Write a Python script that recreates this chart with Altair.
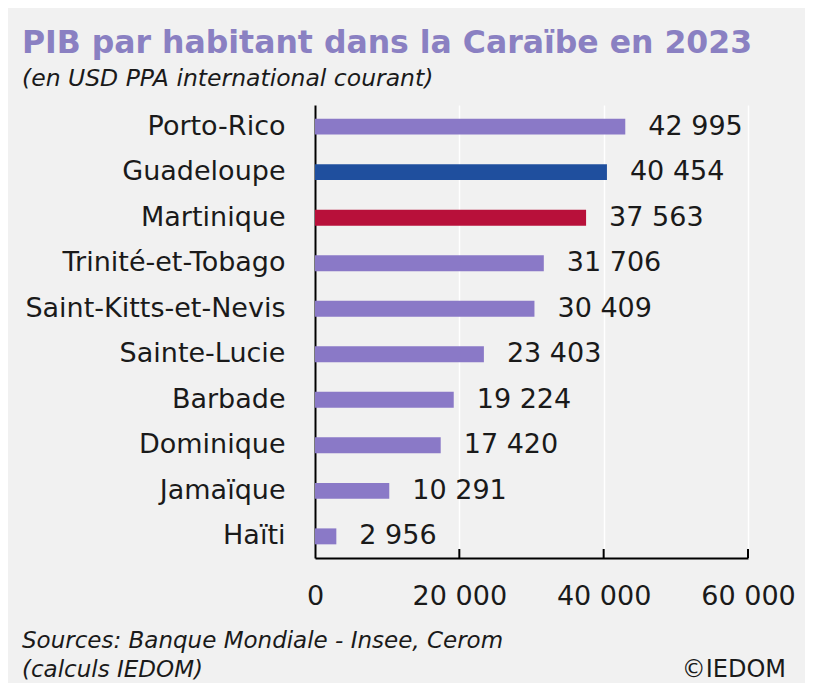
import altair as alt
import pandas as pd

countries = ["Porto-Rico", "Guadeloupe", "Martinique", "Trinité-et-Tobago",
             "Saint-Kitts-et-Nevis", "Sainte-Lucie", "Barbade", "Dominique",
             "Jamaïque", "Haïti"]
values = [42995, 40454, 37563, 31706, 30409, 23403, 19224, 17420, 10291, 2956]
groups = ["autre", "Guadeloupe", "Martinique", "autre", "autre", "autre",
          "autre", "autre", "autre", "autre"]
group_names = ["autre", "Guadeloupe", "Martinique"]
group_colors = ["#8a79c7", "#1f4f9e", "#b8103a"]
tick_values = [20000, 40000, 60000]

title = "PIB par habitant dans la Caraïbe en 2023"
subtitle = "(en USD PPA international courant)"
source1 = "Sources: Banque Mondiale - Insee, Cerom"
source2 = "(calculs IEDOM)"
copyright_ = "©IEDOM"

FONT = "DejaVu Sans"

df = pd.DataFrame({
    "pays": countries,
    "valeur": values,
    "groupe": groups,
    "label": [f"{v:,}".replace(",", " ") for v in values],
})
ticks_df = pd.DataFrame({"t": tick_values})

W, H = 433, 453

x_scale = alt.Scale(domain=[0, 60000], nice=False)
y_scale = alt.Scale(domain=countries, paddingInner=0.65, paddingOuter=0.3)

base = alt.Chart(df)

bars = base.mark_bar().encode(
    x=alt.X("valeur:Q", scale=x_scale, axis=alt.Axis(
        values=[0, 20000, 40000, 60000], title=None, grid=True, gridColor="white",
        gridWidth=1.5, domainColor="black", domainWidth=2, ticks=False,
        labelPadding=25, labelFontSize=27, labelColor="#1a1a1a", labelFont=FONT,
        labelFlush=False, labelExpr="replace(format(datum.value, ',d'), ',', ' ')")),
    y=alt.Y("pays:N", scale=y_scale, sort=countries, axis=alt.Axis(
        title=None, ticks=False, domainColor="black", domainWidth=2, labelLimit=0,
        labelPadding=30, labelFontSize=27, labelColor="#1a1a1a", labelFont=FONT)),
    color=alt.Color("groupe:N", scale=alt.Scale(domain=group_names, range=group_colors), legend=None),
)

labels = base.mark_text(align="left", baseline="middle", dx=23, fontSize=27,
                        font=FONT, color="#1a1a1a").encode(
    x=alt.X("valeur:Q", scale=x_scale),
    y=alt.Y("pays:N", scale=y_scale, sort=countries),
    text="label:N",
)

ticks = alt.Chart(ticks_df).mark_rule(color="black", strokeWidth=2).encode(
    x=alt.X("t:Q", scale=x_scale),
    y=alt.value(H),
    y2=alt.value(H - 9),
)

def txt(s, x, y, size, italic=False, bold=False, color="#1a1a1a", align="left"):
    return alt.Chart(pd.DataFrame({"s": [s]})).mark_text(
        align=align, baseline="alphabetic", fontSize=size, font=FONT,
        fontStyle="italic" if italic else "normal",
        fontWeight="bold" if bold else "normal", color=color,
    ).encode(x=alt.value(x), y=alt.value(y), text="s:N")

ox, oy = 307, 97
t1 = txt(title, 22 - 8 - ox, 53 - 8 - oy, 31.5, bold=True, color="#8a80c2")
t2 = txt(subtitle, 22 - 8 - ox, 86 - 8 - oy, 23.5, italic=True)
f1 = txt(source1, 22 - 8 - ox, 648 - 8 - oy, 23, italic=True)
f2 = txt(source2, 22 - 8 - ox, 677 - 8 - oy, 23, italic=True)
f3 = txt(copyright_, 786 - 8 - ox, 677 - 8 - oy, 24, align="right")

chart = alt.layer(bars, ticks, labels, t1, t2, f1, f2, f3).properties(
    width=W, height=H,
    autosize=alt.AutoSizeParams(type="none"),
    padding={"left": ox, "top": oy, "right": 797 - ox - W, "bottom": 675 - oy - H},
    background="#f1f1f1",
).configure_view(stroke=None)

chart.save("out.html", embed_options={"renderer": "svg", "actions": False})
